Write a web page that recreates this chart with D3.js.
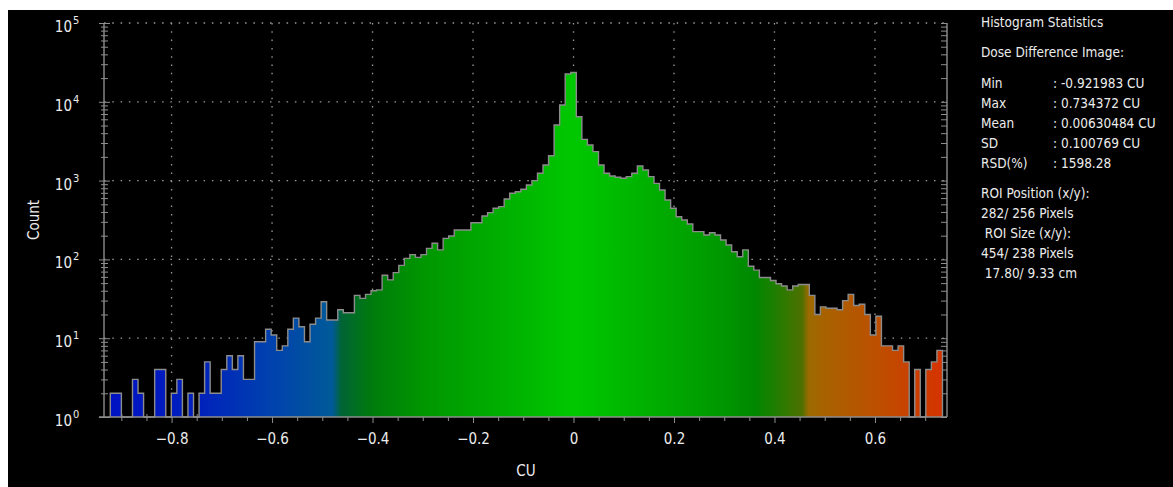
<!DOCTYPE html>
<html>
<head>
<meta charset="utf-8">
<script src="https://cdn.jsdelivr.net/npm/d3@7"></script>
<style>
  html, body { margin: 0; padding: 0; background: #fff; }
  svg text { font-family: "DejaVu Sans Condensed", "DejaVu Sans", sans-serif; fill: #ececec; }
</style>
</head>
<body>
<div id="chart"></div>
<script>
// histogram of the dose difference image, 150 bins between min and max
const binMin = -0.921983, binMax = 0.734372;
const counts = [
  2, 2, 0, 0, 3, 2, 0, 0, 4, 4,
  0, 2, 3, 0, 2, 0, 2, 5, 2, 2,
  4, 6, 4, 6, 3, 3, 9, 9, 13, 11,
  7, 8, 13, 18, 14, 9, 15, 18, 29, 17,
  17, 23, 21, 21, 35, 32, 36, 40, 41, 63,
  55, 68, 84, 103, 115, 106, 115, 138, 160, 132,
  185, 198, 236, 236, 236, 292, 292, 355, 392, 445,
  467, 584, 690, 723, 776, 880, 1000, 1238, 1578, 2070,
  5080, 9110, 22500, 23500, 6470, 3340, 2830, 2330, 1578, 1238,
  1144, 1101, 1069, 1122, 1238, 1532, 1364, 1122, 923, 760,
  567, 445, 348, 316, 281, 225, 225, 204, 218, 204,
  176, 152, 125, 108, 132, 82, 73, 59, 59, 54,
  49, 46, 41, 46, 48, 48, 35, 20, 25, 24,
  24, 23, 30, 36, 26, 27, 20, 11, 19, 8,
  8, 7, 8, 5, 0, 4, 0, 4, 5, 7
];
const xTicks = [-0.8, -0.6, -0.4, -0.2, 0, 0.2, 0.4, 0.6];
const yDecades = [1, 10, 100, 1000, 10000, 100000];

const statRows = [
  ['Min', ': -0.921983 CU'],
  ['Max', ': 0.734372 CU'],
  ['Mean', ': 0.00630484 CU'],
  ['SD', ': 0.100769 CU'],
  ['RSD(%)', ': 1598.28']
];
const roiLines = ['ROI Position (x/y):', '282/ 256 Pixels', ' ROI Size (x/y):', '454/ 238 Pixels', ' 17.80/ 9.33 cm'];

// colour ramp along CU
const ramp = [
  [-0.93, '#0012c4'], [-0.75, '#0020bc'], [-0.6, '#0042ae'], [-0.48, '#005a98'],
  [-0.462, '#006434'], [-0.4, '#007c0c'], [-0.3, '#009600'], [-0.1, '#00b600'],
  [0, '#00c800'], [0.1, '#00b800'], [0.3, '#009600'], [0.36, '#008800'],
  [0.4, '#1e7e00'], [0.455, '#4e7000'], [0.468, '#9c6a00'], [0.5, '#a86200'],
  [0.6, '#bc5000'], [0.74, '#d63200']
];

const W = 1173, H = 487;
const svg = d3.select('#chart').append('svg').attr('width', W).attr('height', H);
svg.append('rect').attr('x', 8).attr('y', 10).attr('width', W - 8).attr('height', H - 10).attr('fill', '#000');

const x = d3.scaleLinear().domain([-0.9345, 0.7434]).range([104, 947]);
const y = d3.scaleLog().domain([1, 1e5]).range([417, 23]);
const axisCol = '#8e8e8e';

const defs = svg.append('defs');
const grad = defs.append('linearGradient').attr('id', 'cuRamp')
  .attr('gradientUnits', 'userSpaceOnUse')
  .attr('x1', x(-0.9345)).attr('x2', x(0.7434)).attr('y1', 0).attr('y2', 0);
const span = 0.7434 + 0.9345;
ramp.forEach(([v, c]) => grad.append('stop').attr('offset', (v + 0.9345) / span).attr('stop-color', c));

// grid
const grid = svg.append('g').attr('stroke', '#9a9a9a').attr('stroke-width', 1.3).attr('stroke-dasharray', '1.5,6.8');
grid.selectAll('.gx').data(xTicks).join('line')
  .attr('x1', d => x(d)).attr('x2', d => x(d)).attr('y1', y(1e5)).attr('y2', y(1));
grid.selectAll('.gy').data(yDecades.slice(1)).join('line')
  .attr('x1', x.range()[0]).attr('x2', x.range()[1]).attr('y1', d => y(d)).attr('y2', d => y(d));

// x axis ticks (crossing the baseline)
const minorX = d3.range(-18, 15).map(i => i * 0.05).filter(v => Math.abs(Math.round(v * 5) - v * 5) > 1e-6);
const xMinor = svg.append('g').attr('transform', 'translate(0,414)')
  .call(d3.axisBottom(x).tickValues(minorX).tickSize(7).tickSizeOuter(0).tickFormat(''));
const xMajor = svg.append('g').attr('transform', 'translate(0,411)')
  .call(d3.axisBottom(x).tickValues(xTicks).tickSize(12).tickSizeOuter(0).tickPadding(10)
    .tickFormat(d => d === 0 ? '0' : d3.format('.1f')(d)));
[xMinor, xMajor].forEach(g => {
  g.select('.domain').remove();
  g.selectAll('line').attr('stroke', axisCol);
});
xMajor.selectAll('text').attr('font-size', 15).attr('fill', '#ececec').style('font-family', null);

// y axis ticks
const minorY = [];
yDecades.slice(0, -1).forEach(d => d3.range(2, 10).forEach(m => minorY.push(m * d)));
const yMajor = svg.append('g').attr('transform', 'translate(110,0)')
  .call(d3.axisLeft(y).tickValues(yDecades).tickSize(11).tickSizeOuter(0).tickFormat(''));
const yMinor = svg.append('g').attr('transform', 'translate(108,0)')
  .call(d3.axisLeft(y).tickValues(minorY).tickSize(7).tickSizeOuter(0).tickFormat(''));
const yRight = svg.append('g').attr('transform', 'translate(947,0)')
  .call(d3.axisLeft(y).tickValues(yDecades.concat(minorY)).tickSize(6).tickSizeOuter(0).tickFormat(''));
[yMajor, yMinor, yRight].forEach(g => {
  g.select('.domain').remove();
  g.selectAll('line').attr('stroke', axisCol);
});

// histogram bars
const bw = (binMax - binMin) / counts.length;
const bins = counts.map((c, i) => ({ x0: binMin + i * bw, c }));
const pts = bins.concat([{ x0: binMax, c: counts[counts.length - 1] }]);
const yc = c => c > 0 ? y(c) : y(1);
const area = d3.area().curve(d3.curveStepAfter)
  .x(d => x(d.x0)).y0(y(1)).y1(d => yc(d.c));
svg.append('path').datum(pts).attr('d', area).attr('fill', 'url(#cuRamp)');

const outline = [{ x0: binMin, c: 0 }].concat(pts, [{ x0: binMax, c: 0 }]);
const line = d3.line().curve(d3.curveStepAfter).x(d => x(d.x0)).y(d => yc(d.c));
svg.append('path').datum(outline).attr('d', line)
  .attr('fill', 'none').attr('stroke', '#8c8c8c').attr('stroke-width', 1.4);

// axis lines
const frame = svg.append('g').attr('stroke', axisCol).attr('stroke-width', 1.4).attr('fill', 'none');
frame.append('line').attr('x1', 99).attr('x2', x.range()[1]).attr('y1', y(1)).attr('y2', y(1));
frame.append('line').attr('x1', x.range()[0]).attr('x2', x.range()[0]).attr('y1', y(1e5)).attr('y2', y(1));
frame.append('line').attr('x1', x.range()[1]).attr('x2', x.range()[1]).attr('y1', y(1e5)).attr('y2', y(1));

// y tick labels as powers of ten
svg.append('g').selectAll('text').data(yDecades).join('text')
  .attr('x', 72).attr('y', d => y(d) + 9).attr('text-anchor', 'end').attr('font-size', 15)
  .text('10');
svg.append('g').selectAll('text').data(yDecades).join('text')
  .attr('x', 73).attr('y', d => y(d) + 1).attr('font-size', 11)
  .text(d => Math.round(Math.log10(d)));

// axis titles
svg.append('text').attr('transform', 'translate(39,220) rotate(-90)')
  .attr('text-anchor', 'middle').attr('font-size', 15).text('Count');
svg.append('text').attr('x', 526).attr('y', 476)
  .attr('text-anchor', 'middle').attr('font-size', 15).text('CU');

// statistics panel
const st = svg.append('g').attr('font-size', 13.5).style('font-family', '"DejaVu Sans", sans-serif');
const px = 981;
st.append('text').attr('x', px).attr('y', 27).text('Histogram Statistics');
st.append('text').attr('x', px).attr('y', 57).text('Dose Difference Image:');
statRows.forEach((r, i) => {
  st.append('text').attr('x', px).attr('y', 88 + i * 20).text(r[0]);
  st.append('text').attr('x', 1053).attr('y', 88 + i * 20).text(r[1]);
});
roiLines.forEach((t, i) => {
  st.append('text').attr('x', px).attr('y', 198 + i * 20).attr('xml:space', 'preserve').text(t);
});
</script>
</body>
</html>
